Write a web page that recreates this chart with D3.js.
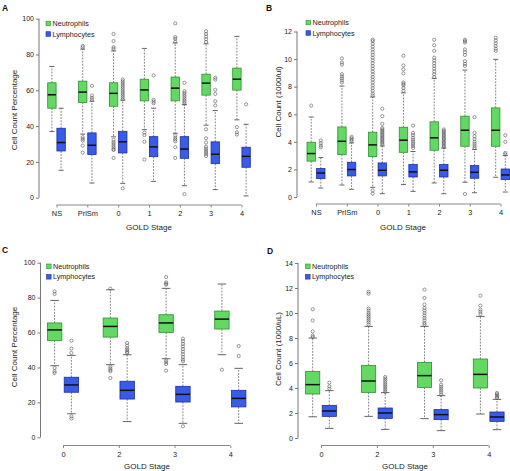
<!DOCTYPE html>
<html><head><meta charset="utf-8">
<script src="https://cdn.jsdelivr.net/npm/d3@7"></script>
<style>
html,body{margin:0;padding:0;background:#fff;}
svg{display:block;font-family:"Liberation Sans",Arial,sans-serif;}
</style></head>
<body>
<svg id="chart" width="510" height="471"></svg>
<script>
// ---------- DATA ----------
const catsAB = ["NS","PrlSm","0","1","2","3","4"];
const catsCD = ["0","2","3","4"];
const seriesNames = ["Neutrophils","Lymphocytes"];
// stats: [whiskerLow, q1, median, q3, whiskerHigh]
const A_neu = [[37,50,57.5,64.2,73.3],[35.5,53.2,59,65.1,83],[34,51.1,58.3,64.2,82],[38,54.1,60.2,66.2,83.4],[36,54.1,61.2,67.4,86.5],[40.5,57.3,64,69,86],[43.5,60.1,66.2,72.4,90.1]];
const A_neuOut = [[],[84,84.8,33.8,32.8,31.9,29.1,25.2],[91.5,87.5,84,83.2,32.3,31,30,29,28,27,26.7,22.2],[36.4,35,31.3,21.3],[97.4,89.7,88.8,87.2,34.7,33.5,32.5,31.5,28.2,22.2],[93,91.5,90,88.5,87,38.2,33.2,30.8,28.5,27.5,26.5,25.5,24.4,23.3],[39.4,36.5,35.3]];
const A_lym = [[15.3,26.1,30.8,38.8,50],[8.2,24.1,29.3,36.2,53.9],[8,25,31.2,37.1,54.5],[9.1,22.9,28.4,34.1,50],[6.7,22,27.2,34.1,52],[4.5,19,24.3,31.2,48.7],[1,17,23.1,28.2,41]];
const A_lymOut = [[],[62.5,57.1,55.8,54.7],[66,65,64,63,62,61,60,59,58,57,56,55,5.2],[68.3,54.7,53.7,52.8],[64.2,59.5,58.5,57.5,56.5,55.5,54.5,53.5,52.5,2],[67,66,60.3,58,53.9,51.5],[52.2]];

const B_neu = [[1.09,2.6,3.15,3.97,5.8],[0.87,3.07,4.04,5.08,8.04],[0.7,2.93,3.78,4.7,7.25],[0.9,3.24,4.12,5.06,7.55],[1.02,3.39,4.29,5.45,8.6],[1.07,3.68,4.84,5.86,9.2],[1.43,3.68,4.84,6.46,9.98]];
const B_neuOut = [[6.63],[10.05,9.75,9.6,8.9,8.75,8.6,8.45,8.3],[11.4,11.3,11.1,10.9,10.7,10.5,10.3,10.1,9.9,9.7,9.5,9.3,9.1,8.9,8.7,8.5,8.3,8.1,7.9,7.7,7.5,7.35,0.48,0.24],[10.24,9.54,9.25,8.96,8.3,8.2,8.1,7.9,7.7],[11.4,11.0,10.6,10.1,9.9,9.7,9.5,9.3,9.1,8.9,8.7],[11.4,11.3,11.2,10.7,10.5,10.3,9.85,9.65,9.5,0.22],[11.55,11.35,11.15,10.95,10.75,10.6]];
const B_lym = [[0.65,1.33,1.74,2.06,2.86],[0.56,1.53,1.99,2.52,3.92],[0.24,1.53,1.94,2.47,3.7],[0.41,1.45,1.82,2.35,3.3],[0.24,1.45,1.94,2.35,3.55],[0.31,1.36,1.79,2.28,3.45],[0.36,1.26,1.6,2.03,3.0]];
const B_lymOut = [[4.1,3.9,3.73,3.6],[4.36,4.25,4.15,4.05],[6.4,5.86,5.3,5.0,4.9,4.8,4.7,4.6,4.5,4.4,4.3,4.2,4.1,4.0,3.9,3.8],[5.18,4.65,4.48,4.3,4.15,4.0,3.85,3.7,3.56],[4.9,4.8,4.7,4.6,4.5,4.4,4.3,4.2,4.1,4.0,3.9,3.8,3.7,3.6],[5.79,4.65,4.4,4.2,4.0,3.85,3.7,3.56],[4.48,4.0,3.2,3.1]];

const C_neu = [[41,55.5,61.5,65.5,78.4],[41.6,57.4,63.5,68.3,84.5],[45,60.1,65.5,70.2,85.3],[47.3,62,67.7,72.3,87.8]];
const C_neuOut = [[83.6,82.1,39.7,37.8,36.8],[85.1,40.6,39.5,38.5,37.8,34],[91.8,88.7,88,87.4,44,43,42,38.2],[38.7]];
const C_lym = [[13.5,25.8,30,34.4,46.9],[9,21.9,26.9,32.1,47.3],[8,20.2,24.6,29.2,41.6],[8,17.4,22.3,26.9,39.5]];
const C_lymOut = [[55.3,50.8,48.3,12,10.7],[54,52.5,51,50,49,48.3],[56.5,55,53.5,52,50.5,49,47.5,46,44.5,43.5,6.3],[52.3,46.6]];

const D_neu = [[1.7,3.52,4.27,5.33,8.0],[1.73,3.65,4.56,5.81,8.93],[1.55,4.05,4.99,6.05,8.93],[1.92,4.0,5.09,6.32,9.73]];
const D_neuOut = [[10.3,9.4,8.53,8.2,8.08],[11.7,11.55,10.35,10.2,10.0,9.85,9.7,9.55,9.4,9.25,9.07],[11.87,11.2,10.67,10.4,10.2,10.0,9.8,9.6,9.4,9.2,9.07],[11.39,10.59,10.27,10.1,9.92]];
const D_lym = [[0.77,1.73,2.16,2.61,3.79],[0.69,1.57,2.0,2.4,3.63],[0.59,1.47,1.87,2.27,3.39],[0.67,1.33,1.68,2.08,3.09]];
const D_lymOut = [[4.43,4.13,3.95],[4.88,4.75,4.6,4.45,4.3,4.15,4.0,3.85,3.68],[4.61,4.27,4.1,3.95,3.8,3.65,3.47],[3.6,3.5,3.4,3.3,3.2]];

const ticksA = [0,20,40,60,80,100];
const ticksB = [0,2,4,6,8,10,12];
const ticksC = [0,20,40,60,80,100];
const ticksD = [0,2,4,6,8,10,12,14];

// ---------- STYLE ----------
const fills = ["#63d863","#3a5be8"];
const strokes = ["#2f8f2f","#1d2e9e"];
const svg = d3.select("#chart");

function panel(cfg){
  const g = svg.append("g");
  const x = d3.scalePoint().domain(cfg.cats).range(cfg.xr);
  const y = d3.scaleLinear().domain(cfg.ydom).range(cfg.yr);
  // y axis
  const ya = g.append("g").attr("transform",`translate(${cfg.yx},0)`)
    .call(d3.axisLeft(y).tickValues(cfg.yticks).tickSize(3).tickPadding(2).tickFormat(d3.format("d")));
  ya.select(".domain").attr("stroke","#777").attr("d",`M0,${y(cfg.ydom[0])}V${y(cfg.ydom[1])}`);
  ya.selectAll(".tick line").attr("stroke","#777");
  ya.selectAll("text").attr("font-size",7).attr("fill","#222").attr("font-family","Liberation Sans, Arial");
  // x axis
  const xa = g.append("g").attr("transform",`translate(0,${cfg.xy})`)
    .call(d3.axisBottom(x).tickSize(2.5).tickPadding(3.5));
  xa.select(".domain").attr("stroke","#888").attr("d",`M${cfg.xr[0]},0H${cfg.xr[1]}`);
  xa.selectAll(".tick line").attr("stroke","#888");
  xa.selectAll("text").attr("font-size",7.4).attr("fill","#222").attr("font-family","Liberation Sans, Arial");
  // boxes
  [cfg.neu,cfg.lym].forEach((stats,si)=>{
    const outs = si===0?cfg.neuOut:cfg.lymOut;
    const off = si===0?-cfg.off:cfg.off;
    stats.forEach((s,i)=>{
      const cx = x(cfg.cats[i])+off, w = cfg.bw;
      const bg = g.append("g");
      bg.append("line").attr("x1",cx).attr("x2",cx).attr("y1",y(s[3])).attr("y2",y(s[4]))
        .attr("stroke","#666").attr("stroke-width",0.8).attr("stroke-dasharray","1.8,1.3");
      bg.append("line").attr("x1",cx).attr("x2",cx).attr("y1",y(s[1])).attr("y2",y(s[0]))
        .attr("stroke","#666").attr("stroke-width",0.8).attr("stroke-dasharray","1.8,1.3");
      [s[0],s[4]].forEach(v=>bg.append("line").attr("x1",cx-w*0.3).attr("x2",cx+w*0.3)
        .attr("y1",y(v)).attr("y2",y(v)).attr("stroke","#555").attr("stroke-width",0.9));
      bg.append("rect").attr("x",cx-w/2).attr("width",w).attr("y",y(s[3])).attr("height",y(s[1])-y(s[3]))
        .attr("fill",fills[si]).attr("stroke",strokes[si]).attr("stroke-width",0.8);
      bg.append("line").attr("x1",cx-w/2).attr("x2",cx+w/2).attr("y1",y(s[2])).attr("y2",y(s[2]))
        .attr("stroke","#111").attr("stroke-width",1.5);
      outs[i].forEach(v=>bg.append("circle").attr("cx",cx).attr("cy",y(v)).attr("r",1.6)
        .attr("fill","none").attr("stroke","#555").attr("stroke-width",0.6));
    });
  });
  // legend
  seriesNames.forEach((n,i)=>{
    const ly = cfg.leg[1]+i*10.5;
    g.append("rect").attr("x",cfg.leg[0]).attr("y",ly-2.3).attr("width",4.6).attr("height",4.6)
      .attr("fill",fills[i]).attr("stroke",strokes[i]).attr("stroke-width",0.6);
    g.append("text").attr("x",cfg.leg[0]+6.5).attr("y",ly+2.6).attr("font-size",7.2).attr("fill","#222").text(n);
  });
  // titles
  g.append("text").attr("transform",`translate(${cfg.ytitle[0]},${cfg.ytitle[1]}) rotate(-90)`)
    .attr("text-anchor","middle").attr("font-size",8).attr("fill","#222").text(cfg.ylab);
  g.append("text").attr("x",cfg.xtitle[0]).attr("y",cfg.xtitle[1]).attr("text-anchor","middle")
    .attr("font-size",8).attr("fill","#222").text("GOLD Stage");
  g.append("text").attr("x",cfg.letter[0]).attr("y",cfg.letter[1]).attr("font-size",8.5)
    .attr("font-weight","bold").attr("fill","#111").text(cfg.name);
}

panel({name:"A",cats:catsAB,xr:[56.5,241.5],ydom:[0,100],yr:[197.7,18.7],yticks:ticksA,yx:39,xy:205,
  neu:A_neu,neuOut:A_neuOut,lym:A_lym,lymOut:A_lymOut,off:4.6,bw:8.4,leg:[46,23.5],
  ylab:"Cell Count Percentage",ytitle:[17,110],xtitle:[149,230],letter:[2,11]});
panel({name:"B",cats:catsAB,xr:[316,500.5],ydom:[0,12],yr:[197,31.5],yticks:ticksB,yx:297,xy:204,
  neu:B_neu,neuOut:B_neuOut,lym:B_lym,lymOut:B_lymOut,off:4.8,bw:8.4,leg:[306,22.5],
  ylab:"Cell Count (1000/ul)",ytitle:[281,102],xtitle:[403,230],letter:[266,11]});
panel({name:"C",cats:catsCD,xr:[63,230.3],ydom:[0,100],yr:[437.3,262.7],yticks:ticksC,yx:40.5,xy:445.5,
  neu:C_neu,neuOut:C_neuOut,lym:C_lym,lymOut:C_lymOut,off:8.4,bw:14.4,leg:[46.5,266.3],
  ylab:"Cell Count Percentage",ytitle:[17,347],xtitle:[147,468.5],letter:[2,253]});
panel({name:"D",cats:catsCD,xr:[321,488.7],ydom:[0,14],yr:[438,263],yticks:ticksD,yx:298,xy:445.5,
  neu:D_neu,neuOut:D_neuOut,lym:D_lym,lymOut:D_lymOut,off:8.3,bw:14.2,leg:[305.5,266.3],
  ylab:"Cell Count (1000/uL)",ytitle:[281,349],xtitle:[405,468.5],letter:[267,254]});
</script>
</body></html>
